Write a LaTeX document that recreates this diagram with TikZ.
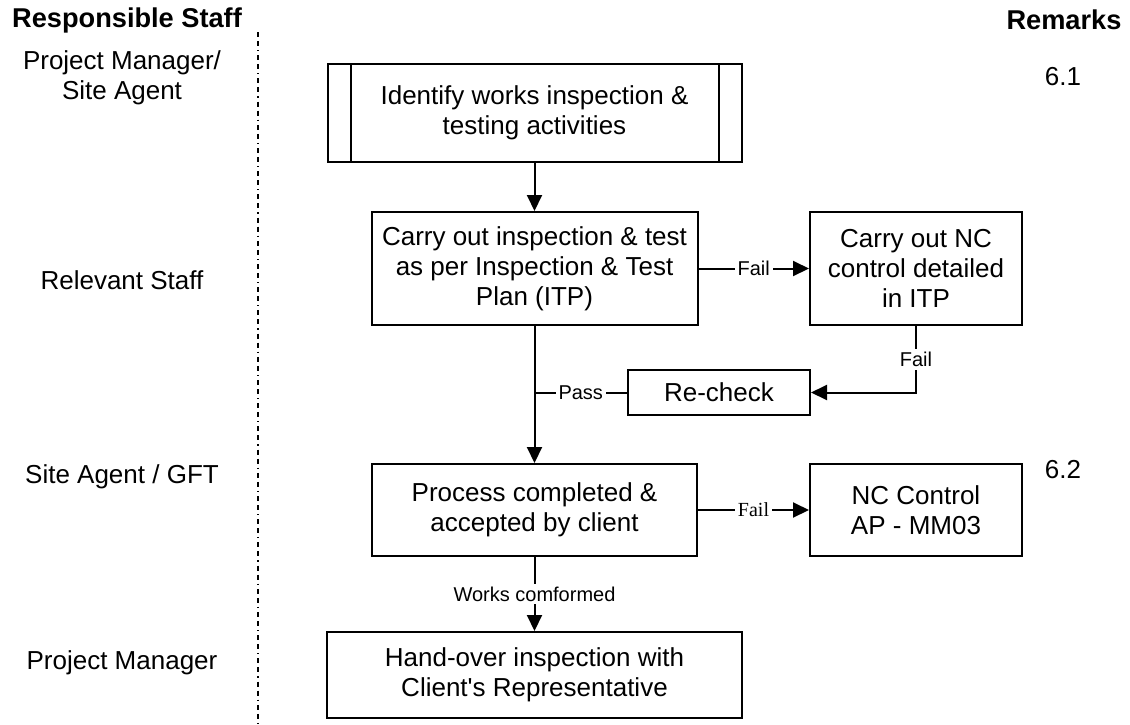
\documentclass[tikz,border=0pt]{standalone}
\usepackage{fontspec}
\setmainfont{Liberation Sans}
\newfontfamily\timesfont{Liberation Serif}
\usetikzlibrary{arrows.meta}

\tikzset{
  box/.style={draw, line width=1pt, align=center, inner sep=0pt,
    font=\fontsize{13}{15}\selectfont},
  lbl/.style={fill=white, inner sep=1.5pt, font=\fontsize{10}{12}\selectfont},
  staff/.style={align=center, font=\fontsize{13}{15}\selectfont},
  head/.style={font=\bfseries\fontsize{13.6}{16}\selectfont},
}

\begin{document}
\begin{tikzpicture}[x=.5pt, y=-.5pt, line width=1pt, >={Triangle[length=8pt,width=7.5pt]}]
  \def\xm{534.5} \def\xr{916}
  \useasboundingbox (0,0) rectangle (1130,724);
  % column headings and separator
  \node[head] (hstaff) at (127,20) {Responsible Staff};
  \node[head] (hrem) at (1064,20) {Remarks};
  \draw[dash pattern=on 2.5pt off 2pt on 2.5pt off 2pt on .6pt off 2pt] (258,32) -- (258,724);
  % who does what
  \node[staff] (s1) at (122,78) {Project Manager/\\Site Agent};
  \node[staff] (s2) at (122,280) {Relevant Staff};
  \node[staff] (s3) at (122,477) {Site Agent / GFT};
  \node[staff] (s4) at (122,663) {Project Manager};
  % remarks
  \node[staff] (r1) at (1063,77) {6.1};
  \node[staff] (r2) at (1063,470) {6.2};
  % flow boxes
  \node[box, minimum width=207pt, minimum height=49pt] (b1) at (\xm,113)
    {Identify works inspection \&\\testing activities};
  \draw ([xshift=12pt]b1.north west) -- ([xshift=12pt]b1.south west);
  \draw ([xshift=-12pt]b1.north east) -- ([xshift=-12pt]b1.south east);
  \node[box, minimum width=163pt, minimum height=56.5pt] (b2) at (\xm,268.5)
    {Carry out inspection \& test\\as per Inspection \& Test\\Plan (ITP)};
  \node[box, minimum width=106pt, minimum height=56.5pt] (b3) at (\xr,268.5)
    {Carry out NC\\control detailed\\in ITP};
  \node[box, minimum width=91pt, minimum height=22.5pt] (rc) at (719,392.5) {Re-check};
  \node[box, minimum width=162.5pt, minimum height=46pt] (b4) at (\xm,510)
    {Process completed \&\\accepted by client};
  \node[box, minimum width=106pt, minimum height=46pt] (nc) at (\xr,510)
    {NC Control\\AP - MM03};
  \node[box, minimum width=207.5pt, minimum height=43pt] (b5) at (\xm,675)
    {Hand-over inspection with\\Client\textquotesingle s Representative};
  % connectors
  \draw[->] (b1.south) -- (b2.north);
  \draw[->] (b2.east) -- node[lbl]{Fail} (b3.west);
  \draw[->] (b3.south) |- node[lbl,pos=.25]{Fail} (rc.east);
  \draw (rc.west) -- node[lbl]{Pass} (b2.south |- rc.west);
  \draw[->] (b2.south) -- (b4.north);
  \draw[->] (b4.east) -- node[lbl,font=\timesfont\fontsize{10}{12}\selectfont]{Fail} (nc.west);
  \draw[->] (b4.south) -- node[lbl]{Works comformed} (b5.north);
\end{tikzpicture}
\end{document}
